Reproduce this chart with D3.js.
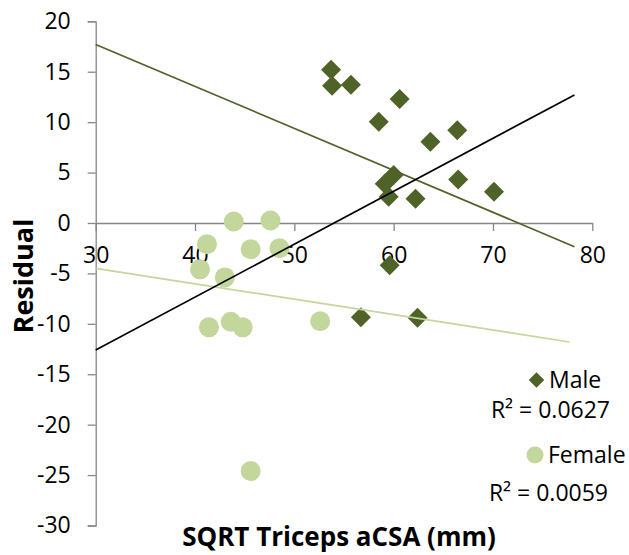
<!DOCTYPE html>
<html>
<head>
<meta charset="utf-8">
<script src="https://cdn.jsdelivr.net/npm/d3@7"></script>
<style>
  body { margin: 0; background: #fff; }
  text { font-family: "Open Sans", "Liberation Sans", sans-serif; fill: #000; }
</style>
</head>
<body>
<div id="chart"></div>
<script>
// Data
const maleX = [53.7, 53.8, 55.7, 60.6, 58.5, 63.7, 66.4, 60.0, 59.1, 59.5, 62.2, 66.5, 70.1, 59.6, 56.7, 62.4];
const maleY = [15.2, 13.6, 13.7, 12.3, 10.05, 8.05, 9.2, 4.75, 3.9, 2.6, 2.4, 4.3, 3.1, -4.2, -9.35, -9.4];
const femaleX = [43.9, 47.6, 41.2, 45.6, 48.5, 40.5, 43.0, 41.4, 43.6, 44.8, 45.6, 52.6];
const femaleY = [0.15, 0.25, -2.1, -2.6, -2.5, -4.6, -5.4, -10.35, -9.8, -10.35, -24.6, -9.75];

// trend lines: [x0, y0, x1, y1]
const maleTrend = [30, 17.7, 78.2, -2.35];
const femaleTrend = [30, -4.5, 77.7, -11.8];
const allTrend = [30, -12.6, 78.2, 12.7];

const xTicks = [30, 40, 50, 60, 70, 80];
const yTicks = [-30, -25, -20, -15, -10, -5, 0, 5, 10, 15, 20];

const legendItems = ["Male", "Female"];
const r2Labels = ["R\u00B2 = 0.0627", "R\u00B2 = 0.0059"];

const width = 629, height = 555;
const margin = { top: 21.3, right: 36.7, bottom: 29.5, left: 95.7 };

const maleColor = "#4F6228";
const femaleColor = "#C3D69B";
const axisColor = "#868686";

const svg = d3.select("#chart").append("svg")
    .attr("width", width)
    .attr("height", height);

const x = d3.scaleLinear().domain([30, 80]).range([margin.left, width - margin.right]);
const y = d3.scaleLinear().domain([-30, 20]).range([height - margin.bottom, margin.top]);

// y axis
const yAxis = d3.axisLeft(y).tickValues(yTicks).tickSize(8).tickPadding(17);
const gy = svg.append("g")
    .attr("transform", `translate(${x(30)},0)`)
    .call(yAxis);
gy.select(".domain").attr("stroke", axisColor).attr("stroke-width", 1.3);
gy.selectAll(".tick line").attr("stroke", axisColor).attr("stroke-width", 1.3);
gy.selectAll(".tick text")
    .style("font-size", "23px")
    .attr("fill", "#000")
    .text(d => d < 0 ? "-" + Math.abs(d) : d);

// x axis crossing at y = 0
const xAxis = d3.axisBottom(x).tickValues(xTicks).tickSize(8).tickPadding(16).tickSizeOuter(0);
const gx = svg.append("g")
    .attr("transform", `translate(0,${y(0)})`)
    .call(xAxis);
gx.select(".domain").attr("stroke", axisColor).attr("stroke-width", 1.3);
gx.selectAll(".tick line").attr("stroke", axisColor).attr("stroke-width", 1.3);
gx.selectAll(".tick text")
    .style("font-size", "23px")
    .attr("fill", "#000");

// axis titles
svg.append("text")
    .attr("x", 339)
    .attr("y", 546)
    .attr("text-anchor", "middle")
    .style("font-size", "26px")
    .style("font-weight", "bold")
    .text("SQRT Triceps aCSA (mm)");

svg.append("text")
    .attr("transform", `translate(33,276) rotate(-90)`)
    .attr("text-anchor", "middle")
    .style("font-size", "27px")
    .style("font-weight", "bold")
    .text("Residual");

// markers
const diamond = d3.symbol().type(d3.symbolSquare).size(200);

svg.append("g").selectAll("circle")
    .data(femaleX.map((d, i) => [d, femaleY[i]]))
    .enter().append("circle")
    .attr("cx", d => x(d[0]))
    .attr("cy", d => y(d[1]))
    .attr("r", 10)
    .attr("fill", femaleColor);

svg.append("g").selectAll("path")
    .data(maleX.map((d, i) => [d, maleY[i]]))
    .enter().append("path")
    .attr("d", diamond)
    .attr("transform", d => `translate(${x(d[0])},${y(d[1])}) rotate(45)`)
    .attr("fill", maleColor);

// trend lines
const trends = [
    { t: maleTrend, color: maleColor },
    { t: femaleTrend, color: femaleColor },
    { t: allTrend, color: "#000" }
];
svg.append("g").selectAll("line")
    .data(trends)
    .enter().append("line")
    .attr("x1", d => x(d.t[0]))
    .attr("y1", d => y(d.t[1]))
    .attr("x2", d => x(d.t[2]))
    .attr("y2", d => y(d.t[3]))
    .attr("stroke", d => d.color)
    .attr("stroke-width", 1.7);

// legend
const legend = svg.append("g");
legend.append("path")
    .attr("d", d3.symbol().type(d3.symbolSquare).size(120))
    .attr("transform", "translate(536.5,380) rotate(45)")
    .attr("fill", maleColor);
legend.append("text")
    .attr("x", 549)
    .attr("y", 388)
    .style("font-size", "23px")
    .text(legendItems[0]);
legend.append("text")
    .attr("x", 610)
    .attr("y", 418)
    .attr("text-anchor", "end")
    .style("font-size", "23px")
    .text(r2Labels[0]);

legend.append("circle")
    .attr("cx", 535)
    .attr("cy", 455)
    .attr("r", 8.5)
    .attr("fill", femaleColor);
legend.append("text")
    .attr("x", 548)
    .attr("y", 463)
    .style("font-size", "23px")
    .text(legendItems[1]);
legend.append("text")
    .attr("x", 608)
    .attr("y", 501)
    .attr("text-anchor", "end")
    .style("font-size", "23px")
    .text(r2Labels[1]);
</script>
</body>
</html>
